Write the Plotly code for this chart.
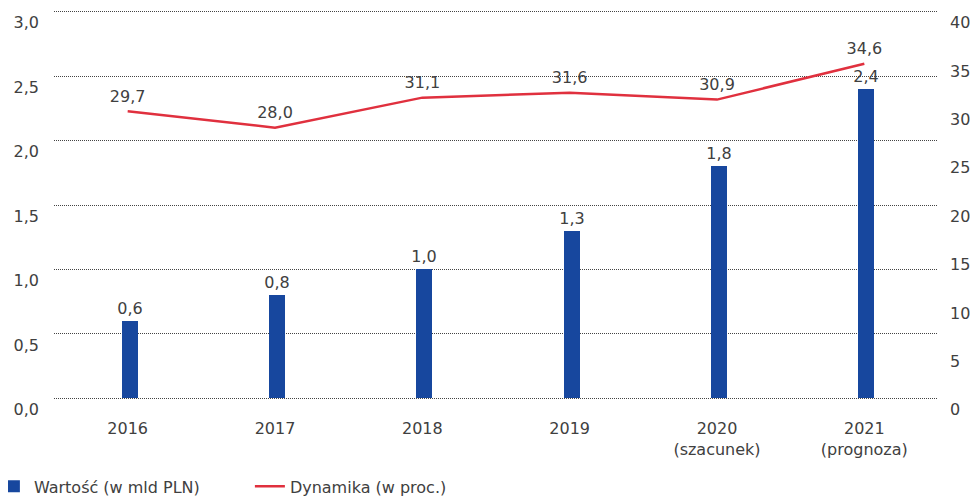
import plotly.graph_objects as go

categories = ["2016", "2017", "2018", "2019", "2020<br>(szacunek)", "2021<br>(prognoza)"]
wartosc = [0.6, 0.8, 1.0, 1.3, 1.8, 2.4]
dynamika = [29.7, 28.0, 31.1, 31.6, 30.9, 34.6]

FONT = "DejaVu Sans"
TXT = "#404040"
FS = 16

fig = go.Figure()
fig.add_trace(go.Bar(
    x=categories, y=wartosc, name="Wartość (w mld PLN)",
    marker=dict(color="#17479e", line=dict(width=0)),
    width=0.107, offset=-0.04,
    text=wartosc, texttemplate="%{y:.1f}", textposition="outside",
    constraintext="none",
    textfont=dict(size=FS, color=TXT, family=FONT),
    cliponaxis=False,
))
fig.add_trace(go.Scatter(
    x=categories, y=dynamika, name="Dynamika (w proc.)", yaxis="y2",
    mode="lines+markers+text", line=dict(color="#e0303e", width=2.5),
    marker=dict(size=7, color="rgba(0,0,0,0)"),
    text=dynamika, texttemplate="%{y:.1f}", textposition="top center",
    textfont=dict(size=FS, color=TXT, family=FONT),
    cliponaxis=False,
))

eps = 0.02
fig.update_layout(
    width=970, height=489,
    margin=dict(l=46, r=40, t=1, b=96, autoexpand=False),
    plot_bgcolor="white", paper_bgcolor="white",
    separators=", ",
    font=dict(family=FONT, size=FS, color=TXT),
    showlegend=True,
    legend=dict(orientation="h", x=-0.068, xanchor="left", y=-0.218, yanchor="middle",
                font=dict(size=FS, color=TXT, family=FONT),
                itemwidth=30, traceorder="normal", entrywidthmode="pixels", entrywidth=211,
                bgcolor="rgba(0,0,0,0)"),
    xaxis=dict(showgrid=False, showline=False, ticks="", tickfont=dict(size=FS, color=TXT),
               ticklabelstandoff=16),
    yaxis=dict(range=[-eps, 3.0 + eps], tickvals=[0, 0.5, 1.0, 1.5, 2.0, 2.5, 3.0],
               tickformat=".1f", showgrid=True,
               gridcolor="#444", griddash="1px,1px", gridwidth=1, zeroline=False,
               showline=False, ticks="", ticklabelposition="outside bottom",
               ticklabelstandoff=14, tickfont=dict(size=FS, color=TXT)),
    yaxis2=dict(range=[-eps * 40 / 3, 40 + eps * 40 / 3], tickvals=[0, 5, 10, 15, 20, 25, 30, 35, 40],
                overlaying="y", side="right", showgrid=False,
                zeroline=False, showline=False, ticks="", ticklabelposition="outside bottom",
                tickfont=dict(size=FS, color=TXT), ticklabelstandoff=11),
    bargap=0.0,
)

fig.write_html("out.html")
